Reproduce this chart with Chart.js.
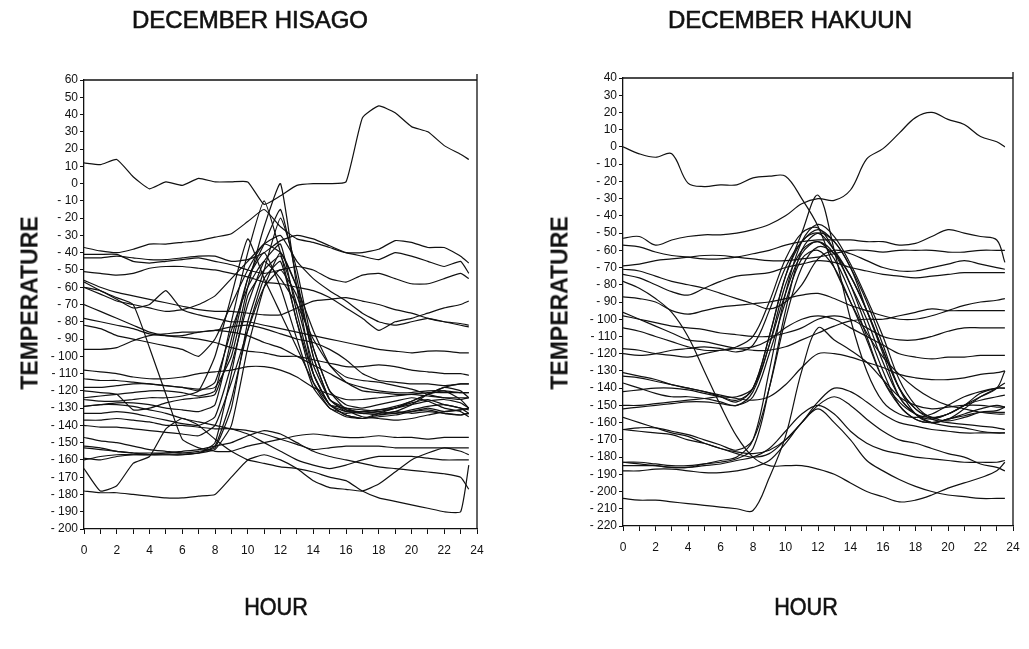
<!DOCTYPE html>
<html>
<head>
<meta charset="utf-8">
<script src="https://cdn.jsdelivr.net/npm/chart.js@4.4.1/dist/chart.umd.min.js"></script>
<style>
  body { margin: 0; background: #fff; width: 1029px; height: 649px; position: relative; overflow: hidden; }
  canvas { position: absolute; top: 0; }
  .lbl { position: absolute; font-family: "Liberation Sans", Arial, sans-serif; color: #111; white-space: nowrap; -webkit-text-stroke: 0.6px #111; }
  .title { top: 6px; font-size: 24px; transform: translateX(-50%); }
  .xname { top: 593px; font-size: 24px; transform: translateX(-50%) scaleX(0.9); }
  .yname { top: 303px; font-size: 23px; font-weight: bold; -webkit-text-stroke: 0; transform: translate(-50%, -50%) rotate(-90deg); }
</style>
</head>
<body>
<canvas id="hisago" width="514" height="649" style="left:0"></canvas>
<canvas id="hakuun" width="515" height="649" style="left:514px"></canvas>
<div class="lbl title" style="left:250px">DECEMBER HISAGO</div>
<div class="lbl title" style="left:790px">DECEMBER HAKUUN</div>
<div class="lbl yname" style="left:30px">TEMPERATURE</div>
<div class="lbl yname" style="left:560px">TEMPERATURE</div>
<div class="lbl xname" style="left:276px">HOUR</div>
<div class="lbl xname" style="left:806px">HOUR</div>
<script>
// hours of the day (last point half an hour before midnight)
const hours = [0,1,2,3,4,5,6,7,8,9,10,11,12,13,14,15,16,17,18,19,20,21,22,23,23.5];

const hisagoRange = [-200, 60];
const hakuunRange = [-220, 40];

// HISAGO, one row per curve
const hisagoLines = [
  [12,11,14,4,-3,1,-1,3,1,1,1,-12,-7,-1,0,0,1,38,45,41,33,30,22,17,14],
  [-37,-39,-40,-38,-35,-35,-34,-33,-31,-29,-22,-15,-25,-32,-34,-37,-40,-40,-38,-33,-34,-37,-37,-42,-46],
  [-43,-43,-42,-43,-44,-44,-43,-42,-42,-45,-44,-40,-33,-30,-32,-36,-40,-42,-44,-40,-42,-45,-48,-45,-52],
  [-41,-41,-41,-45,-46,-45,-44,-43,-45,-47,-50,-52,-50,-48,-50,-55,-57,-53,-52,-55,-58,-58,-55,-52,-55],
  [-51,-52,-53,-52,-49,-48,-48,-49,-50,-52,-54,-57,-58,-60,-62,-66,-72,-78,-85,-80,-78,-75,-72,-70,-68],
  [-56,-60,-63,-65,-67,-69,-71,-73,-74,-74,-75,-76,-76,-72,-68,-67,-66,-68,-70,-73,-75,-78,-80,-81,-82],
  [-60,-62,-67,-72,-70,-62,-73,-76,-78,-80,-80,-82,-84,-86,-88,-90,-92,-94,-96,-97,-98,-97,-97,-98,-98],
  [-70,-74,-78,-82,-86,-88,-89,-90,-92,-95,-97,-98,-100,-100,-102,-104,-106,-106,-105,-106,-108,-109,-110,-110,-111],
  [-78,-80,-82,-84,-87,-88,-88,-86,-85,-83,-82,-84,-87,-90,-92,-96,-102,-110,-114,-115,-116,-116,-117,-116,-116],
  [-96,-96,-95,-91,-88,-87,-86,-86,-85,-86,-88,-92,-95,-100,-105,-110,-115,-118,-120,-121,-121,-120,-120,-121,-121],
  [-108,-109,-110,-112,-113,-113,-112,-110,-109,-108,-106,-106,-108,-112,-118,-122,-125,-125,-124,-123,-122,-123,-124,-124,-124],
  [-57,-62,-66,-70,-95,-122,-148,-153,-155,-155,-152,-150,-148,-146,-145,-146,-147,-147,-146,-147,-147,-148,-147,-147,-147],
  [-129,-128,-128,-129,-131,-133,-136,-138,-140,-142,-143,-145,-148,-151,-154,-153,-152,-152,-152,-153,-153,-153,-153,-153,-153],
  [-137,-137,-136,-137,-138,-140,-140,-141,-142,-142,-145,-150,-155,-160,-163,-165,-163,-160,-158,-158,-158,-159,-160,-160,-160],
  [-178,-179,-179,-180,-181,-182,-182,-181,-180,-170,-160,-157,-160,-165,-172,-176,-177,-178,-174,-167,-160,-156,-153,-155,-157],
  [-165,-178,-175,-162,-158,-142,-136,-140,-148,-155,-160,-162,-164,-165,-167,-170,-172,-178,-182,-184,-186,-188,-190,-190,-163],
  [-153,-154,-155,-156,-156,-156,-155,-154,-152,-150,-146,-143,-145,-150,-155,-158,-160,-162,-164,-165,-166,-167,-168,-170,-177],
  [-113,-114,-114,-115,-116,-117,-118,-119,-118,-100,-60,-25,0,-60,-110,-128,-130,-131,-132,-133,-131,-129,-128,-130,-131],
  [-120,-121,-122,-131,-130,-127,-125,-124,-122,-95,-55,-35,-15,-55,-100,-125,-132,-133,-134,-133,-132,-131,-133,-134,-133],
  [-124,-123,-122,-121,-120,-120,-121,-123,-120,-80,-40,-10,-40,-80,-115,-130,-133,-132,-131,-130,-128,-126,-125,-127,-130],
  [-125,-126,-126,-125,-124,-124,-123,-120,-100,-65,-32,-55,-75,-95,-115,-128,-134,-136,-135,-134,-132,-130,-132,-131,-130],
  [-129,-128,-127,-127,-128,-130,-131,-132,-128,-90,-55,-40,-60,-90,-118,-130,-135,-136,-134,-132,-133,-132,-133,-134,-133],
  [-133,-133,-132,-133,-135,-137,-139,-140,-135,-105,-70,-45,-35,-75,-110,-128,-132,-132,-133,-132,-128,-122,-118,-120,-124],
  [-147,-149,-150,-152,-154,-155,-156,-156,-150,-110,-65,-50,-42,-70,-105,-125,-130,-133,-132,-130,-126,-122,-120,-125,-130],
  [-152,-153,-155,-156,-157,-157,-157,-156,-152,-125,-85,-55,-45,-80,-110,-128,-134,-136,-133,-130,-127,-125,-128,-130,-133],
  [-159,-160,-158,-157,-157,-157,-157,-156,-154,-140,-95,-60,-40,-60,-100,-125,-131,-132,-131,-129,-126,-122,-118,-116,-116],
  [-160,-158,-157,-157,-157,-156,-156,-155,-153,-130,-80,-50,-20,-50,-95,-120,-128,-130,-128,-126,-124,-126,-130,-132,-135],
  [-82,-84,-88,-90,-92,-94,-96,-100,-90,-70,-50,-35,-40,-60,-85,-105,-115,-120,-121,-122,-122,-121,-121,-121,-121],
  [-60,-64,-68,-70,-72,-74,-73,-70,-65,-55,-45,-35,-30,-45,-55,-62,-68,-75,-80,-82,-80,-78,-80,-82,-83],
  [-118,-118,-117,-116,-116,-117,-118,-120,-115,-85,-60,-45,-55,-70,-90,-105,-112,-114,-115,-117,-119,-122,-124,-125,-124],
  [-140,-141,-141,-142,-143,-144,-145,-146,-140,-115,-85,-60,-50,-65,-95,-120,-131,-135,-136,-137,-136,-134,-132,-131,-130]
];

// HAKUUN, one row per curve
const hakuunLines = [
  [0,-4,-6,-4,-21,-23,-22,-22,-18,-17,-17,-30,-46,-70,-90,-108,-122,-132,-140,-146,-150,-152,-154,-155,-155],
  [-53,-52,-57,-54,-52,-51,-51,-50,-48,-45,-40,-33,-30,-31,-25,-7,-1,8,17,20,16,13,6,3,0],
  [-57,-58,-61,-63,-64,-65,-65,-64,-62,-60,-57,-55,-54,-54,-54,-55,-55,-57,-56,-52,-48,-50,-52,-54,-67],
  [-69,-68,-66,-65,-64,-63,-63,-64,-65,-66,-66,-65,-64,-62,-60,-60,-61,-60,-60,-60,-61,-61,-60,-60,-60],
  [-71,-72,-75,-78,-80,-82,-85,-88,-91,-94,-90,-80,-65,-60,-62,-66,-70,-72,-72,-70,-68,-66,-68,-70,-71],
  [-74,-76,-80,-84,-86,-82,-78,-75,-74,-73,-70,-68,-66,-67,-70,-72,-74,-75,-76,-75,-74,-73,-73,-73,-73],
  [-87,-88,-90,-95,-97,-95,-93,-92,-91,-90,-88,-86,-85,-88,-92,-95,-98,-100,-100,-98,-95,-92,-90,-89,-88],
  [-96,-100,-104,-108,-112,-113,-115,-117,-118,-118,-116,-112,-108,-104,-101,-100,-100,-98,-96,-94,-95,-95,-95,-95,-95],
  [-98,-100,-102,-104,-105,-106,-108,-109,-110,-110,-108,-105,-100,-98,-100,-105,-110,-112,-112,-110,-107,-105,-105,-105,-105],
  [-105,-107,-110,-113,-116,-118,-118,-117,-116,-112,-105,-100,-98,-100,-105,-110,-115,-120,-122,-123,-122,-122,-121,-121,-121],
  [-78,-82,-88,-96,-110,-130,-150,-168,-180,-185,-185,-185,-187,-190,-195,-200,-203,-206,-205,-202,-198,-195,-192,-188,-183],
  [-204,-205,-205,-206,-207,-208,-209,-210,-211,-192,-168,-130,-105,-112,-118,-125,-135,-145,-150,-152,-151,-150,-150,-151,-151],
  [-188,-188,-187,-187,-188,-189,-189,-188,-186,-182,-172,-160,-152,-160,-170,-182,-188,-193,-197,-200,-202,-203,-204,-204,-204],
  [-183,-184,-185,-186,-186,-185,-184,-182,-180,-175,-165,-155,-150,-155,-165,-172,-176,-178,-180,-181,-182,-183,-183,-183,-182],
  [-157,-160,-163,-166,-168,-172,-175,-178,-180,-178,-170,-160,-150,-145,-150,-158,-165,-170,-172,-175,-178,-180,-184,-186,-188],
  [-133,-134,-136,-138,-140,-142,-144,-146,-147,-145,-138,-128,-120,-120,-122,-125,-128,-132,-134,-135,-135,-134,-132,-131,-130],
  [-164,-165,-166,-167,-170,-172,-175,-177,-178,-176,-170,-160,-148,-140,-142,-148,-155,-160,-162,-164,-165,-166,-166,-166,-166],
  [-117,-118,-120,-121,-122,-120,-118,-116,-110,-90,-65,-50,-47,-60,-80,-105,-130,-150,-158,-160,-158,-152,-145,-140,-137],
  [-120,-121,-120,-118,-117,-116,-117,-119,-115,-95,-70,-55,-48,-55,-70,-95,-120,-145,-155,-158,-155,-150,-143,-140,-140],
  [-131,-133,-135,-138,-140,-142,-145,-148,-140,-110,-75,-55,-50,-60,-75,-95,-118,-140,-152,-157,-159,-157,-154,-153,-151],
  [-137,-140,-143,-145,-145,-146,-148,-150,-142,-115,-80,-60,-55,-62,-80,-100,-125,-145,-155,-160,-162,-163,-165,-166,-166],
  [-150,-150,-149,-148,-147,-146,-145,-145,-140,-115,-85,-62,-55,-65,-85,-110,-135,-150,-158,-160,-158,-156,-154,-154,-154],
  [-152,-151,-150,-149,-148,-148,-149,-150,-145,-120,-90,-65,-60,-70,-90,-112,-135,-148,-155,-157,-155,-150,-145,-140,-130],
  [-164,-163,-163,-165,-167,-170,-173,-176,-170,-140,-100,-70,-58,-62,-75,-95,-118,-140,-152,-158,-160,-161,-162,-163,-164],
  [-183,-183,-184,-185,-185,-184,-183,-181,-175,-140,-95,-60,-50,-55,-70,-90,-115,-140,-155,-160,-158,-155,-152,-150,-151],
  [-185,-185,-185,-186,-186,-184,-182,-180,-170,-130,-85,-55,-45,-52,-68,-88,-110,-135,-150,-157,-155,-150,-147,-145,-144],
  [-142,-141,-140,-140,-141,-143,-145,-147,-140,-110,-75,-50,-28,-60,-100,-130,-148,-155,-157,-155,-150,-145,-142,-140,-140]
];

const frame = {
  id: 'frame',
  afterDraw(chart) {
    const { ctx, chartArea: a } = chart;
    ctx.save();
    ctx.strokeStyle = '#111';
    ctx.lineWidth = 1.3;
    ctx.beginPath();
    ctx.moveTo(a.left, a.top);
    ctx.lineTo(a.right, a.top);
    ctx.moveTo(a.right, a.top - 6);
    ctx.lineTo(a.right, a.bottom);
    ctx.stroke();
    ctx.restore();
  }
};

function makeChart(id, lines, range, box) {
  const datasets = lines.map(vals => ({
    data: vals.map((v, i) => ({ x: hours[i], y: v })),
    borderColor: '#111',
    borderWidth: 1.2,
    pointRadius: 0,
    tension: box.tension,
    fill: false
  }));
  const tickFont = { family: '"Liberation Sans Narrow", "Liberation Sans", Arial, sans-serif', size: 12 };
  return new Chart(document.getElementById(id), {
    type: 'line',
    data: { datasets },
    plugins: [frame],
    options: {
      responsive: false,
      animation: false,
      devicePixelRatio: 1,
      layout: { padding: { top: box.top, right: box.right, left: 0, bottom: 0 } },
      plugins: { legend: { display: false }, tooltip: { enabled: false } },
      scales: {
        x: {
          type: 'linear', min: 0, max: 24,
          afterFit: s => { s.height = box.h - box.bottom; },
          grid: { drawOnChartArea: false, tickLength: 5, color: '#111' },
          border: { color: '#111', width: 1.3 },
          ticks: {
            stepSize: 1, autoSkip: false, maxRotation: 0, color: '#111', font: tickFont, padding: 9,
            callback: v => (v % 2 === 0 ? v : '')
          }
        },
        y: {
          min: range[0], max: range[1],
          afterFit: s => { s.width = box.left; },
          grid: { drawOnChartArea: false, tickLength: 4, color: '#111' },
          border: { color: '#111', width: 1.3 },
          ticks: {
            stepSize: 10, autoSkip: false, color: '#111', font: tickFont, padding: 2,
            callback: v => (v < 0 ? '- ' + Math.abs(v) : String(v))
          }
        }
      }
    }
  });
}

makeChart('hisago', hisagoLines, hisagoRange, { left: 84, right: 37, top: 80, bottom: 529, h: 649, tension: 0.15 });
makeChart('hakuun', hakuunLines, hakuunRange, { left: 109, right: 16, top: 78, bottom: 526, h: 649, tension: 0.35 });
</script>
</body>
</html>
